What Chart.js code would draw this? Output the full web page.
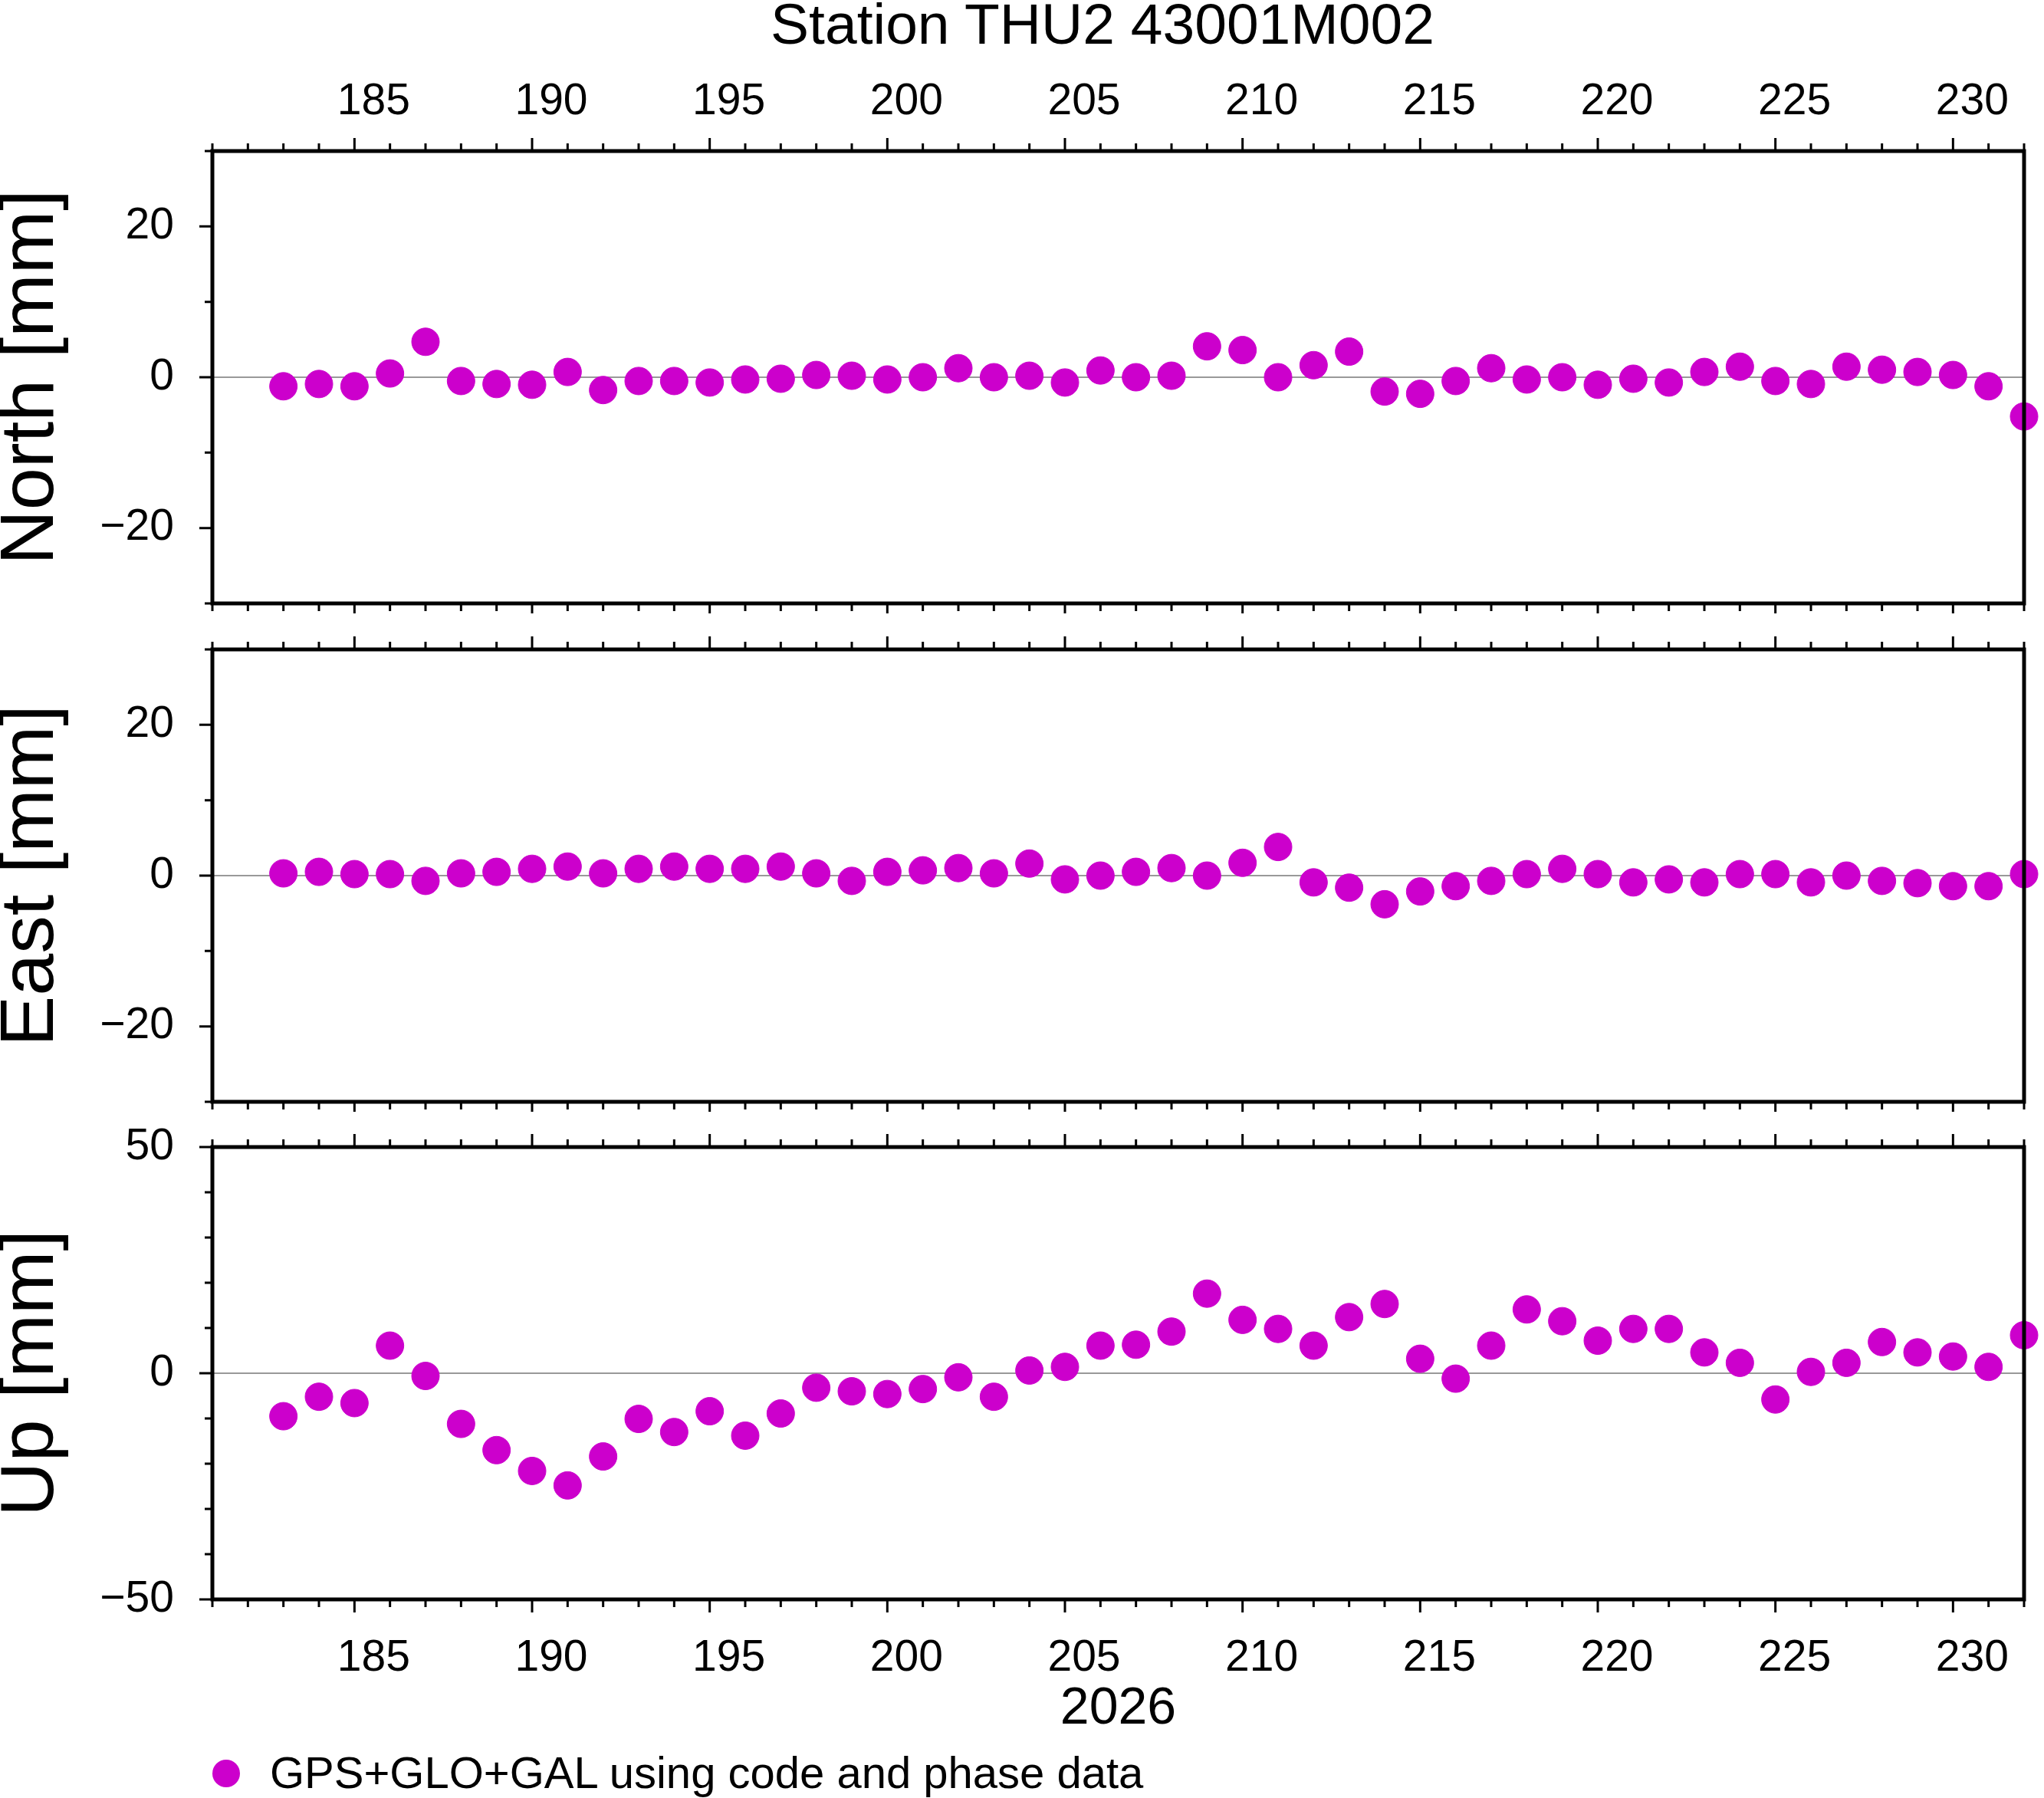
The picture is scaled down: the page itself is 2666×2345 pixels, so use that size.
<!DOCTYPE html>
<html><head><meta charset="utf-8">
<script src="https://cdn.jsdelivr.net/npm/chart.js@4/dist/chart.umd.min.js"></script>
<style>
body{margin:0;background:#fff;width:2666px;height:2345px;position:relative;overflow:hidden;font-family:"Liberation Sans",Arial,sans-serif}
canvas{position:absolute;left:0}
.t{position:absolute;white-space:nowrap;color:#000}
</style></head><body>
<div class="t" style="left:0;width:2876px;text-align:center;top:-12px;font-size:75px">Station THU2 43001M002</div>
<canvas id="c1" width="2666" height="800" style="top:0;width:2666px;height:800px"></canvas>
<canvas id="c2" width="2666" height="650" style="top:800px;width:2666px;height:650px"></canvas>
<canvas id="c3" width="2666" height="895" style="top:1450px;width:2666px;height:895px"></canvas>
<div style="position:absolute;left:277px;top:2295px;width:36px;height:36px;border-radius:50%;background:#cc00cc"></div>
<div class="t" style="left:352px;top:2278px;font-size:58px">GPS+GLO+GAL using code and phase data</div>
<script>
const days=[183,184,185,186,187,188,189,190,191,192,193,194,195,196,197,198,199,200,201,202,203,204,205,206,207,208,209,210,211,212,213,214,215,216,217,218,219,220,221,222,223,224,225,226,227,228,229,230,231,232];
const north=[-1.2,-0.9,-1.2,0.5,4.7,-0.5,-0.9,-1.0,0.7,-1.7,-0.5,-0.5,-0.7,-0.3,-0.2,0.3,0.2,-0.3,0,1.2,0,0.2,-0.7,0.9,0,0.2,4.1,3.6,0,1.6,3.4,-1.9,-2.2,-0.5,1.2,-0.3,0,-1.0,-0.2,-0.7,0.7,1.4,-0.5,-0.9,1.4,1.0,0.7,0.3,-1.2,-5.2];
const east=[0.3,0.5,0.2,0.2,-0.7,0.3,0.5,0.9,1.2,0.3,0.9,1.2,0.9,0.9,1.2,0.3,-0.7,0.5,0.7,1.0,0.3,1.6,-0.5,0,0.5,1.0,0,1.7,3.8,-0.9,-1.6,-3.8,-2.1,-1.4,-0.7,0.2,0.9,0.2,-0.9,-0.5,-0.9,0.2,0.2,-0.9,0,-0.7,-1.0,-1.4,-1.4,0.2];
const up=[-9.5,-5.2,-6.6,6.1,-0.6,-11.2,-17.0,-21.6,-24.8,-18.4,-10.1,-13.0,-8.4,-13.8,-8.9,-3.2,-4.0,-4.6,-3.5,-0.9,-5.2,0.6,1.4,6.1,6.3,9.2,17.6,11.8,9.8,6.1,12.4,15.3,3.2,-1.2,6.1,14.1,11.5,7.2,9.8,9.8,4.6,2.3,-5.8,0.3,2.3,6.9,4.6,3.7,1.4,8.4];
const xTickLabels=[185,190,195,200,205,210,215,220,225,230];
const FONT="'Liberation Sans', Arial, sans-serif";
const COLOR='#cc00cc';

const deco={id:'deco',
 beforeDatasetsDraw(ch){const {ctx,chartArea:a,scales:{y}}=ch;const p=y.getPixelForValue(0);
  ctx.save();ctx.strokeStyle='#777';ctx.lineWidth=1.5;ctx.beginPath();ctx.moveTo(a.left,p);ctx.lineTo(a.right,p);ctx.stroke();ctx.restore();},
 afterDraw(ch){const {ctx,chartArea:a,scales:{x,y}}=ch;const o=ch.options.plugins.deco;
  ctx.save();ctx.strokeStyle='#000';ctx.lineWidth=3;ctx.beginPath();
  for(let v=Math.ceil(x.min);v<=x.max;v++){const p=x.getPixelForValue(v);const l=v%5===0?17:10;
   ctx.moveTo(p,a.top);ctx.lineTo(p,a.top-l);ctx.moveTo(p,a.bottom);ctx.lineTo(p,a.bottom+l);}
  for(let v=y.min;v<=y.max;v+=10){const p=y.getPixelForValue(v);const l=v%o.major===0?17:10;
   ctx.moveTo(a.left,p);ctx.lineTo(a.left-l,p);}
  ctx.stroke();ctx.lineWidth=5;ctx.strokeRect(a.left,a.top,a.right-a.left,a.bottom-a.top);ctx.restore();}};

function zeroPad(s){s.paddingTop=0;s.paddingBottom=0;s.paddingLeft=0;s.paddingRight=0;}
function make(id,vals,opt){
 const data=days.map((d,i)=>({x:d,y:vals[i]}));
 new Chart(document.getElementById(id),{type:'scatter',
  data:{datasets:[{data,backgroundColor:COLOR,borderColor:COLOR,pointRadius:18,pointHoverRadius:18,clip:false}]},
  options:{responsive:false,animation:false,devicePixelRatio:1,
   layout:{autoPadding:false,padding:{top:opt.pt,bottom:opt.pb,right:26,left:0}},
   plugins:{legend:{display:false},tooltip:{enabled:false},deco:{major:opt.major}},
   scales:{
    x:{type:'linear',min:181,max:232,position:opt.xpos,grid:{display:false},border:{display:false},
     afterFit:s=>{s.height=opt.xh;zeroPad(s);},
     afterBuildTicks:s=>{s.ticks=xTickLabels.map(v=>({value:v}));},
     ticks:{display:opt.xlab,padding:opt.xpad,labelOffset:25,maxRotation:0,autoSkip:false,color:'#000',font:{family:FONT,size:57}},
     title:{display:!!opt.xtitle,text:opt.xtitle||'',color:'#000',font:{family:FONT,size:68},padding:{top:4,bottom:0}}},
    y:{type:'linear',min:opt.ymin,max:opt.ymax,grid:{display:false},border:{display:false},
     afterFit:s=>{s.width=277;zeroPad(s);},
     afterBuildTicks:s=>{s.ticks=opt.ylabels.map(v=>({value:v}));},
     ticks:{padding:42,color:'#000',font:{family:FONT,size:57},callback:v=>v<0?'\u2212'+(-v):String(v)},
     title:{display:true,text:opt.ytitle,color:'#000',font:{family:FONT,size:99},padding:{top:-18,bottom:0}}}}},
  plugins:[deco]});
}
make('c1',north,{pt:0,pb:13,xpos:'top',xh:197,xlab:true,xpad:22,ymin:-30,ymax:30,ylabels:[-20,0,20],major:20,ytitle:'North [mm]'});
make('c2',east,{pt:47,pb:0,xpos:'bottom',xh:13,xlab:false,xpad:0,ymin:-30,ymax:30,ylabels:[-20,0,20],major:20,ytitle:'East [mm]'});
make('c3',up,{pt:46,pb:75,xpos:'bottom',xh:184,xlab:true,xpad:35,xtitle:'2026',ymin:-50,ymax:50,ylabels:[-50,0,50],major:50,ytitle:'Up [mm]'});
</script></body></html>
